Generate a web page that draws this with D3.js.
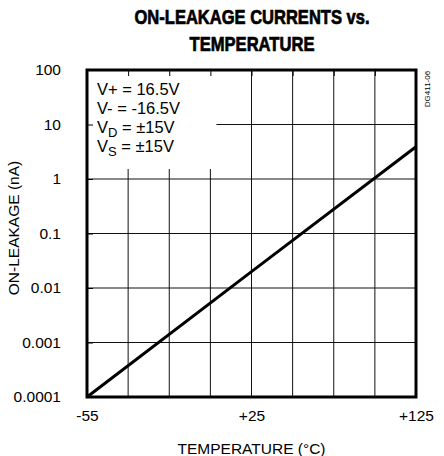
<!DOCTYPE html>
<html>
<head>
<meta charset="utf-8">
<script src="https://cdn.jsdelivr.net/npm/d3@7"></script>
<style>
  body { margin: 0; background: #fff; }
  svg { display: block; }
  .tick text { font-family: "Liberation Sans", Arial, sans-serif; }
</style>
</head>
<body>
<div id="chart"></div>
<script>
// chart data
var xLabelTemps = [-55, 25, 125];             // labelled x ticks (deg C)
var gridTemps = [-35, -15, 5, 25, 50, 75, 100]; // vertical grid lines
var yTicks = [0.0001, 0.001, 0.01, 0.1, 1, 10, 100];
var yTickLabels = ["0.0001", "0.001", "0.01", "0.1", "1", "10", "100"];
var lineTemps = [-55, 25, 125];
var lineLeakage = [0.0001, 0.02, 3.9];
var legendLines = [
  ["V+ = 16.5V"],
  ["V- = -16.5V"],
  ["V", "D", " = \u00b115V"],
  ["V", "S", " = \u00b115V"]
];

var W = 444, H = 456;
var margin = {top: 70, right: 28, bottom: 59, left: 87};
var width = W - margin.left - margin.right;
var height = H - margin.top - margin.bottom;

var svg = d3.select("#chart").append("svg")
  .attr("width", W)
  .attr("height", H);

var g = svg.append("g")
  .attr("transform", "translate(" + margin.left + "," + margin.top + ")");

// x labels are not evenly spaced in degrees, so the scale is piecewise
var x = d3.scaleLinear()
  .domain(xLabelTemps)
  .range([0, width / 2, width]);

var y = d3.scaleLog()
  .domain([0.0001, 100])
  .range([height, 0]);

// grid
g.append("g")
  .selectAll("line.v")
  .data(gridTemps)
  .enter().append("line")
    .attr("x1", function(d) { return x(d); })
    .attr("x2", function(d) { return x(d); })
    .attr("y1", 0)
    .attr("y2", height)
    .attr("stroke", "#111")
    .attr("stroke-width", 1);

g.append("g")
  .selectAll("line.h")
  .data(yTicks.slice(1, -1))
  .enter().append("line")
    .attr("x1", 0)
    .attr("x2", width)
    .attr("y1", function(d) { return y(d); })
    .attr("y2", function(d) { return y(d); })
    .attr("stroke", "#111")
    .attr("stroke-width", 1);

// white legend box hides grid
var boxW = x(gridTemps[2]) + 6;
var boxH = y(1) - 10;
g.append("rect")
  .attr("x", 0).attr("y", 0)
  .attr("width", boxW).attr("height", boxH)
  .attr("fill", "#fff");

// small ticks inside the frame
g.append("g")
  .call(d3.axisTop(x).tickValues(gridTemps).tickSize(-6).tickFormat(""))
  .call(function(s) { s.select(".domain").remove(); });
g.append("g")
  .call(d3.axisLeft(y).tickValues(yTicks.slice(1, -1)).tickSize(-6).tickFormat(""))
  .call(function(s) { s.select(".domain").remove(); });

// y tick labels
g.append("g")
  .call(d3.axisLeft(y).tickValues(yTicks).tickSize(0).tickPadding(26)
    .tickFormat(function(d, i) { return yTickLabels[i]; }))
  .call(function(s) {
    s.select(".domain").remove();
    s.selectAll("text").attr("font-size", "15.5px").attr("fill", "#000");
  });

// x tick labels
g.append("g")
  .attr("transform", "translate(0," + height + ")")
  .call(d3.axisBottom(x).tickValues(xLabelTemps).tickSize(0).tickPadding(13)
    .tickFormat(function(d) { return d > 0 ? "+" + d : d; }))
  .call(function(s) {
    s.select(".domain").remove();
    s.selectAll("text").attr("font-size", "15.5px").attr("fill", "#000");
  });

// the data line
var line = d3.line()
  .x(function(d, i) { return x(lineTemps[i]); })
  .y(function(d) { return y(d); });

g.append("path")
  .datum(lineLeakage)
  .attr("d", line)
  .attr("fill", "none")
  .attr("stroke", "#000")
  .attr("stroke-width", 3);

// frame
g.append("rect")
  .attr("width", width).attr("height", height)
  .attr("fill", "none")
  .attr("stroke", "#000")
  .attr("stroke-width", 3);

// legend text
var leg = g.append("g")
  .attr("font-family", "'Liberation Sans', Arial, sans-serif")
  .attr("font-size", "16.5px");
legendLines.forEach(function(parts, i) {
  var t = leg.append("text")
    .attr("x", 10)
    .attr("y", 25 + i * 19);
  t.append("tspan").text(parts[0]);
  if (parts.length > 2) {
    t.append("tspan").attr("font-size", "13px").attr("dy", 4).text(parts[1]);
    t.append("tspan").attr("dy", -4).text(parts[2]);
  }
});

// titles (condensed look squeezed to the reference widths)
var title = svg.append("g")
  .attr("font-family", "'Liberation Sans', Arial, sans-serif")
  .attr("font-weight", "bold")
  .attr("font-size", "20px")
  .attr("text-anchor", "middle")
  .attr("stroke", "#000")
  .attr("stroke-width", 0.7);
title.append("text").attr("x", 252).attr("y", 24)
  .attr("textLength", 235).attr("lengthAdjust", "spacingAndGlyphs")
  .text("ON-LEAKAGE CURRENTS vs.");
title.append("text").attr("x", 252).attr("y", 51)
  .attr("textLength", 125).attr("lengthAdjust", "spacingAndGlyphs")
  .text("TEMPERATURE");

svg.append("text")
  .attr("x", margin.left + width / 2)
  .attr("y", 454)
  .attr("text-anchor", "middle")
  .attr("font-family", "'Liberation Sans', Arial, sans-serif")
  .attr("font-size", "15.5px")
  .text("TEMPERATURE (\u00b0C)");

svg.append("text")
  .attr("transform", "translate(19,228) rotate(-90)")
  .attr("text-anchor", "middle")
  .attr("font-family", "'Liberation Sans', Arial, sans-serif")
  .attr("font-size", "15.5px")
  .text("ON-LEAKAGE (nA)");

svg.append("text")
  .attr("transform", "translate(430,89) rotate(-90)")
  .attr("text-anchor", "middle")
  .attr("font-family", "'Liberation Sans', Arial, sans-serif")
  .attr("font-size", "8px")
  .text("DG411-06");
</script>
</body>
</html>
